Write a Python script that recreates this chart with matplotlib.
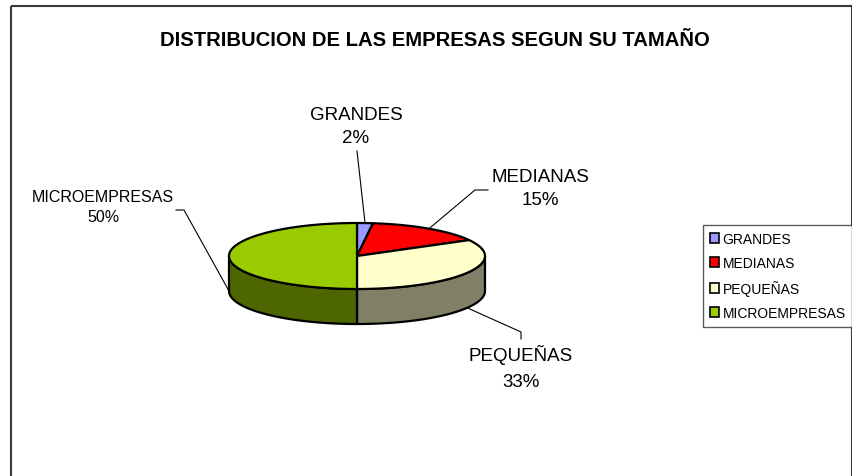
import numpy as np
import matplotlib
matplotlib.use("Agg")
import matplotlib.pyplot as plt
from matplotlib.patches import Polygon, Rectangle, Patch

plt.rcParams['font.family'] = ['Liberation Sans', 'DejaVu Sans']

# ---- data ----
categories = ["GRANDES", "MEDIANAS", "PEQUEÑAS", "MICROEMPRESAS"]
values = [2, 15, 33, 50]
top_colors = ["#9999FF", "#FF0000", "#FFFFCC", "#99CC00"]
side_colors = ["#4D4D80", "#800000", "#808066", "#4D6600"]
title = "DISTRIBUCION DE LAS EMPRESAS SEGUN SU TAMAÑO"

# ---- layout ----
W, H = 853, 477
fig = plt.figure(figsize=(W / 100, H / 100), dpi=100)
ax = fig.add_axes([0, 0, 1, 1])
ax.set_xlim(0, W)
ax.set_ylim(H, 0)
ax.axis('off')

# chart area frame
ax.add_patch(Rectangle((11, 7), 841, 480, fill=False, edgecolor='#3a3a3a', lw=1.5))

ax.text(435, 40.5, title, ha='center', va='center', fontsize=14.6, fontweight='bold')

cx, cy, rx, ry, depth = 357, 257, 128, 33, 35


def pt(theta_deg, dy=0.0):
    t = np.radians(theta_deg)
    return cx + rx * np.cos(t), cy - ry * np.sin(t) + dy


total = float(sum(values))
fr = np.array(values) / total
cum = np.concatenate([[0], np.cumsum(fr)])
starts = 90 - 360 * cum[:-1]
ends = 90 - 360 * cum[1:]

# side faces (front half only)
for s, e, sc in zip(starts, ends, side_colors):
    for k in (-360, 0, 360):
        a = max(e + k, -180)
        b = min(s + k, 0)
        if b - a <= 0:
            continue
        th = np.linspace(b, a, 80)
        xs, ys = pt(th)
        xb, yb = pt(th[::-1], depth)
        poly = np.column_stack([np.concatenate([xs, xb]), np.concatenate([ys, yb])])
        ax.add_patch(Polygon(poly, closed=True, facecolor=sc, edgecolor='black', lw=1.6,
                             joinstyle='round'))

# top faces
for s, e, tc in zip(starts, ends, top_colors):
    th = np.linspace(s, e, 120)
    xs, ys = pt(th)
    poly = np.column_stack([np.concatenate([[cx], xs]), np.concatenate([[cy], ys])])
    ax.add_patch(Polygon(poly, closed=True, facecolor=tc, edgecolor='black', lw=1.6,
                         joinstyle='round'))

# labels with leader lines
label_pos = [(356, 127), (540, 189), (521, 369), (103, 208)]
label_size = [13.5, 13.5, 13.5, 11.5]
label_gap = [24, 23, 27, 20]
elbows = [[(357, 152)], [(475, 191), (488, 191)], [(521, 333), (521, 340)],
          [(184, 211), (176, 211)]]
for i, (cat, v) in enumerate(zip(categories, values)):
    mid = (starts[i] + ends[i]) / 2
    ax_, ay_ = pt(mid)
    if np.sin(np.radians(mid)) <= 1e-9:
        ay_ += depth
    xs = [ax_] + [p[0] for p in elbows[i]]
    ys = [ay_] + [p[1] for p in elbows[i]]
    ax.plot(xs, ys, color='black', lw=0.8)
    lx, ly = label_pos[i]
    g = label_gap[i] / 2
    ax.text(lx, ly - g, cat, ha='center', va='center', fontsize=label_size[i])
    ax.text(lx, ly + g, f"{round(v / total * 100)}%", ha='center', va='center',
            fontsize=label_size[i])

handles = [Patch(facecolor=c, edgecolor='black', lw=1.2) for c in top_colors]
leg = ax.legend(handles, categories, loc='upper left', bbox_to_anchor=(703 / W, 1 - 226 / H),
                fontsize=10, frameon=True, fancybox=False, handlelength=0.65,
                handleheight=0.65, handletextpad=0.25, labelspacing=0.72,
                borderpad=0.5, borderaxespad=0)
leg.get_frame().set_edgecolor('#333333')
leg.get_frame().set_linewidth(1.0)

fig.savefig('out.png', dpi=100)
